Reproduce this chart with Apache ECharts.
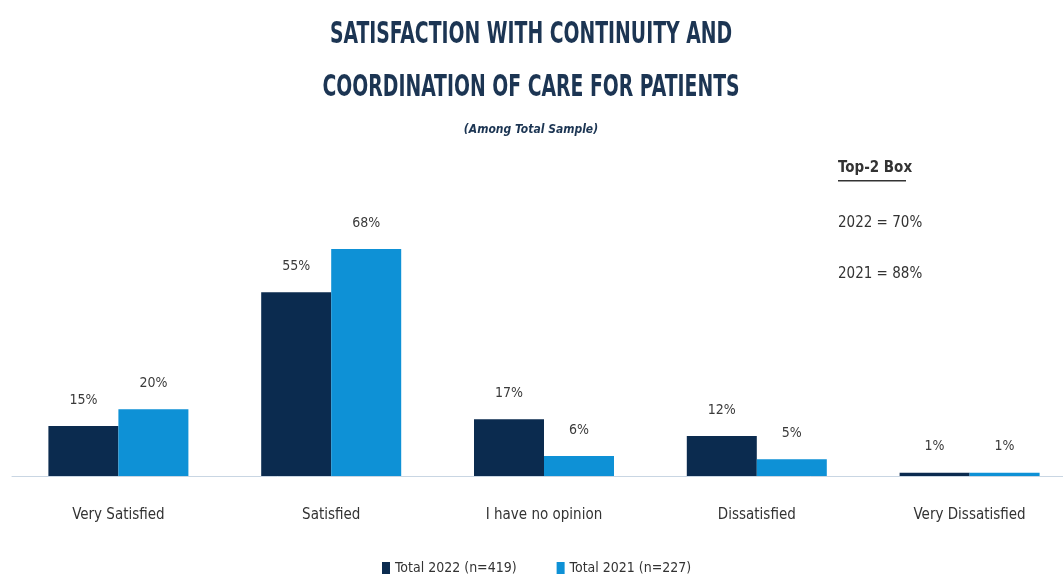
<!DOCTYPE html>
<html>
<head>
<meta charset="utf-8">
<script src="https://cdn.jsdelivr.net/npm/echarts@6/dist/echarts.min.js"></script>
<style>
  html, body { margin: 0; padding: 0; background: #fff; overflow: hidden; }
  /* the baseline runs past the right edge in the original, so the canvas is a bit wider than the window */
  #chart { width: 1076px; height: 580px; }
</style>
</head>
<body>
<div id="chart"></div>
<script>
const categories = ['Very Satisfied', 'Satisfied', 'I have no opinion', 'Dissatisfied', 'Very Dissatisfied'];
const total2022 = [15, 55, 17, 12, 1];
const total2021 = [20, 68, 6, 5, 1];
const seriesNames = ['Total 2022 (n=419)', 'Total 2021 (n=227)'];
const top2Box = ['2022 = 70%', '2021 = 88%'];

const narrow = "'Liberation Sans Narrow', 'DejaVu Sans Condensed', 'Open Sans', sans-serif";
const navy = '#1c3553';

const chart = echarts.init(document.getElementById('chart'));

const labelStyle = {
    show: true,
    position: 'top',
    distance: 19,
    formatter: '{c}%',
    fontFamily: narrow,
    fontSize: 14,
    color: '#3a3a3a'
};

// condensed headline lines, squeezed horizontally to match the narrow face
const titleLine = (text, y) => ({
    type: 'text',
    x: 531,
    y: y,
    scaleX: 0.675,
    style: {
        text: text,
        textAlign: 'center',
        textVerticalAlign: 'middle',
        font: "bold 31px 'DejaVu Sans Condensed', 'Liberation Sans', sans-serif",
        fill: navy
    }
});

chart.setOption({
    backgroundColor: '#fff',
    graphic: [
        titleLine('SATISFACTION WITH CONTINUITY AND', 35),
        titleLine('COORDINATION OF CARE FOR PATIENTS', 88),
        {
            type: 'text',
            x: 531,
            y: 130,
            style: {
                text: '(Among Total Sample)',
                textAlign: 'center',
                textVerticalAlign: 'middle',
                font: "italic bold 12px 'Liberation Sans Narrow', 'DejaVu Sans Condensed', sans-serif",
                fill: navy
            }
        },
        {
            type: 'text',
            left: 838,
            top: 161,
            style: {
                text: 'Top-2 Box',
                font: "bold 15px 'Liberation Sans Narrow', 'DejaVu Sans Condensed', sans-serif",
                fill: '#333'
            }
        },
        {
            type: 'rect',
            left: 838,
            top: 180,
            shape: { width: 68, height: 1.5 },
            style: { fill: '#333' }
        },
        {
            type: 'text',
            left: 838,
            top: 216,
            style: {
                text: top2Box[0],
                font: "15px 'Liberation Sans Narrow', 'DejaVu Sans Condensed', sans-serif",
                fill: '#333'
            }
        },
        {
            type: 'text',
            left: 838,
            top: 267,
            style: {
                text: top2Box[1],
                font: "15px 'Liberation Sans Narrow', 'DejaVu Sans Condensed', sans-serif",
                fill: '#333'
            }
        }
    ],
    legend: {
        bottom: 0,
        left: 377,
        itemWidth: 8,
        itemHeight: 12,
        itemGap: 40,
        icon: 'rect',
        textStyle: {
            fontFamily: narrow,
            fontSize: 14,
            color: '#333'
        },
        data: seriesNames
    },
    grid: {
        left: 12,
        right: 0,
        top: 142,
        height: 334,
        containLabel: false
    },
    xAxis: {
        type: 'category',
        data: categories,
        axisLine: { lineStyle: { color: '#c9d6e3', width: 1 } },
        axisTick: { show: false },
        axisLabel: {
            margin: 32,
            fontFamily: narrow,
            fontSize: 15,
            color: '#333'
        }
    },
    yAxis: {
        type: 'value',
        min: 0,
        max: 100,
        show: false,
        splitLine: { show: false }
    },
    series: [
        {
            name: seriesNames[0],
            type: 'bar',
            data: total2022,
            barWidth: 70,
            barGap: '0%',
            itemStyle: { color: '#0b2b4f' },
            label: labelStyle
        },
        {
            name: seriesNames[1],
            type: 'bar',
            data: total2021,
            barWidth: 70,
            barGap: '0%',
            itemStyle: { color: '#0e91d6' },
            label: labelStyle
        }
    ]
});
</script>
</body>
</html>
